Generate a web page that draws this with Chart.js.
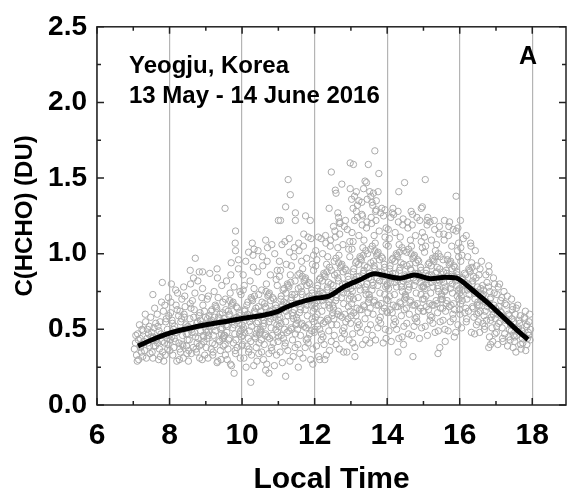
<!DOCTYPE html>
<html>
<head>
<meta charset="utf-8">
<script src="https://cdn.jsdelivr.net/npm/chart.js@4"></script>
<style>
  html, body { margin: 0; padding: 0; background: #fff; }
</style>
</head>
<body>
<canvas id="chart" width="571" height="495"></canvas>
<script>
const xTickValues = [6, 8, 10, 12, 14, 16, 18];
const yTickValues = [0, 0.5, 1, 1.5, 2, 2.5];

// smoothed mean curve
const lineTime = [7.13, 7.5, 8.0, 8.5, 9.0, 9.5, 10.0, 10.5, 10.95, 11.2, 11.5, 12.0, 12.4, 12.8, 13.25, 13.65, 13.95, 14.35, 14.75, 15.2, 15.6, 15.9, 16.05, 16.3, 16.75, 17.2, 17.65, 17.88];
const lineHCHO = [0.39, 0.43, 0.475, 0.505, 0.53, 0.55, 0.572, 0.59, 0.615, 0.645, 0.672, 0.705, 0.72, 0.78, 0.828, 0.868, 0.855, 0.838, 0.86, 0.835, 0.845, 0.84, 0.82, 0.77, 0.68, 0.58, 0.48, 0.433];

// single measurements, pairs of (local time x100, HCHO x100), by half hour
const scatterRaw = [
  706,41, 731,36, 712,47, 744,52, 709,33, 738,44, 721,39, 748,58, 715,30, 727,49, 740,41, 703,37, 734,55, 719,44, 746,34, 724,50, 711,29, 742,47, 729,42, 717,53, 736,31, 749,45, 722,35, 707,46, 745,39, 733,60, 714,43, 726,32, 739,50, 720,38,
  763,44, 791,57, 752,35, 778,68, 786,41, 757,51, 799,46, 770,30, 783,62, 761,39, 794,50, 774,55, 755,45, 788,33, 766,60, 797,71, 779,42, 751,48, 772,37, 793,44, 759,64, 784,29, 768,52, 796,40, 776,47, 754,31, 789,55, 764,43, 781,35, 798,59, 771,49, 757,39, 787,66, 762,54, 775,32, 792,46, 767,41, 795,37, 754,73, 780,81,
  814,52, 837,39, 803,61, 846,47, 822,74, 809,33, 831,55, 849,43, 818,66, 827,30, 841,58, 806,45, 834,70, 812,38, 845,53, 824,49, 801,36, 839,78, 816,42, 829,62, 848,34, 807,56, 836,46, 820,29, 843,65, 811,50, 826,41, 833,57, 804,68, 847,39, 819,48, 830,35, 842,72, 813,44, 825,59, 838,31, 808,54, 850,47, 821,63, 835,40, 817,76, 844,51, 828,37, 802,43, 840,60, 805,80,
  862,48, 889,71, 853,36, 877,55, 895,42, 868,63, 851,52, 883,31, 899,58, 872,45, 858,80, 886,49, 865,38, 892,66, 856,57, 879,44, 897,33, 870,74, 861,50, 884,61, 852,29, 893,46, 875,54, 866,84, 888,40, 857,67, 898,53, 873,37, 881,59, 854,43, 891,77, 869,48, 860,34, 885,56, 896,62, 876,41, 863,69, 890,30, 855,51, 878,82, 894,45, 867,58, 882,39, 859,64, 900,50, 874,35, 887,53, 857,89, 871,97, 882,88, 891,88,
  913,55, 938,42, 904,70, 927,49, 946,61, 919,33, 935,58, 908,46, 944,79, 922,52, 901,38, 930,64, 949,45, 916,56, 933,29, 907,72, 941,50, 925,40, 911,87, 937,57, 903,44, 947,68, 920,35, 929,53, 914,62, 943,47, 906,31, 932,84, 950,55, 918,41, 926,66, 940,36, 909,59, 945,51, 923,75, 902,48, 936,43, 917,63, 948,39, 912,54, 931,90, 905,57, 942,30, 921,46, 934,71, 910,52, 939,60, 915,37, 928,65, 946,44, 924,58, 931,28, 907,49, 944,55,
  988,56, 963,43, 997,73, 974,51, 955,63, 982,34, 966,60, 993,47, 957,82, 979,53, 999,39, 971,66, 952,46, 985,58, 968,27, 994,75, 960,52, 976,41, 990,90, 964,59, 998,45, 954,70, 981,36, 972,55, 987,64, 958,48, 995,31, 969,86, 951,57, 983,43, 975,68, 961,37, 992,61, 956,53, 978,78, 996,49, 965,44, 984,65, 953,40, 989,56, 970,94, 993,59, 959,30, 980,47, 967,74, 991,54, 962,62, 986,38, 973,67, 950,46, 977,57, 1000,50, 954,33, 966,69, 953,130, 982,115, 981,107, 982,102, 978,21, 971,26, 990,96,
  1012,58, 1037,44, 1003,76, 1026,52, 1045,65, 1018,35, 1034,62, 1007,48, 1043,88, 1021,55, 1001,40, 1029,69, 1048,47, 1015,60, 1032,26, 1006,79, 1040,54, 1024,42, 1010,95, 1036,61, 1002,46, 1046,73, 1019,37, 1028,57, 1013,66, 1042,50, 1005,31, 1031,91, 1049,59, 1017,44, 1025,71, 1039,38, 1008,63, 1044,55, 1022,82, 1004,51, 1035,45, 1016,68, 1047,41, 1011,58, 1030,99, 1007,62, 1041,29, 1020,49, 1033,77, 1009,56, 1038,64, 1014,39, 1027,70, 1050,48, 1023,59, 1000,53, 1046,34, 1034,72, 1003,86, 1018,101, 1044,102, 1026,33, 1011,25, 1039,47, 1024,15, 1028,107, 1033,103,
  1088,61, 1063,46, 1097,79, 1074,55, 1055,68, 1082,36, 1066,64, 1093,50, 1057,92, 1079,57, 1099,42, 1071,72, 1052,49, 1085,63, 1068,27, 1094,83, 1060,56, 1076,44, 1090,100, 1064,65, 1098,48, 1054,76, 1081,38, 1072,59, 1087,70, 1058,52, 1095,33, 1069,95, 1051,62, 1083,46, 1075,74, 1061,40, 1092,66, 1056,58, 1078,86, 1096,53, 1065,47, 1084,71, 1053,43, 1089,60, 1070,104, 1093,64, 1059,30, 1080,51, 1067,80, 1091,58, 1062,67, 1086,41, 1073,73, 1050,50, 1077,62, 1100,56, 1054,35, 1066,75, 1097,89, 1082,106, 1056,98, 1074,34, 1089,26, 1061,54, 1071,45, 1079,69, 1065,109, 1065,23, 1074,21, 1100,122,
  1112,66, 1137,50, 1103,85, 1126,59, 1145,73, 1118,39, 1134,69, 1107,54, 1143,98, 1121,62, 1101,45, 1129,78, 1148,53, 1115,68, 1132,29, 1106,89, 1140,61, 1124,48, 1110,106, 1136,71, 1102,52, 1146,82, 1119,41, 1128,64, 1113,76, 1142,57, 1105,35, 1131,101, 1149,67, 1117,50, 1125,80, 1139,43, 1108,72, 1144,63, 1122,93, 1104,58, 1135,51, 1116,77, 1147,47, 1111,65, 1130,110, 1107,70, 1141,32, 1120,55, 1133,86, 1109,63, 1138,73, 1114,44, 1127,79, 1150,54, 1123,67, 1100,60, 1146,38, 1134,81, 1103,95, 1118,108, 1144,104, 1126,36, 1111,28, 1139,59, 1129,49, 1121,74, 1136,92, 1108,46, 1120,131, 1127,149, 1106,122, 1120,19, 1133,139, 1147,127, 1147,122,
  1188,70, 1163,53, 1197,89, 1174,63, 1155,77, 1182,41, 1166,73, 1193,57, 1157,102, 1179,66, 1199,48, 1171,82, 1152,56, 1185,72, 1168,31, 1194,93, 1160,65, 1176,51, 1190,110, 1164,75, 1198,55, 1154,86, 1181,44, 1172,68, 1187,80, 1158,61, 1195,37, 1169,105, 1151,71, 1183,53, 1175,84, 1161,46, 1192,76, 1156,67, 1178,97, 1196,62, 1165,54, 1184,81, 1153,50, 1189,69, 1170,113, 1193,74, 1159,34, 1180,59, 1167,90, 1191,66, 1162,78, 1186,47, 1173,83, 1150,58, 1177,71, 1200,64, 1154,40, 1166,85, 1197,99, 1182,111, 1156,107, 1174,38, 1189,30, 1161,63, 1171,52, 1179,79, 1164,95, 1192,49, 1177,43, 1159,87, 1175,125, 1155,25, 1188,122, 1195,27,
  1212,73, 1237,56, 1203,92, 1226,66, 1245,80, 1218,43, 1234,76, 1207,60, 1243,105, 1221,69, 1201,50, 1229,85, 1248,59, 1215,75, 1232,33, 1206,96, 1240,68, 1224,54, 1210,111, 1236,78, 1202,58, 1246,89, 1219,47, 1228,71, 1213,83, 1242,64, 1205,39, 1231,107, 1249,74, 1217,56, 1225,87, 1239,49, 1208,79, 1244,70, 1222,100, 1204,65, 1235,57, 1216,84, 1247,53, 1211,72, 1230,112, 1207,77, 1241,36, 1220,62, 1233,93, 1209,69, 1238,81, 1214,50, 1227,86, 1250,61, 1223,74, 1200,67, 1246,42, 1234,88, 1203,102, 1218,110, 1244,109, 1226,40, 1211,32, 1239,66, 1229,55, 1221,82, 1236,98, 1208,52, 1223,45, 1241,91, 1246,154, 1240,130, 1228,30, 1214,30,
  1288,78, 1263,60, 1297,98, 1274,71, 1255,86, 1282,47, 1266,82, 1293,65, 1257,111, 1279,74, 1299,54, 1271,91, 1252,64, 1285,80, 1268,37, 1294,103, 1260,73, 1276,58, 1290,116, 1264,84, 1298,62, 1254,95, 1281,51, 1272,76, 1287,89, 1258,69, 1295,43, 1269,113, 1251,79, 1283,60, 1275,93, 1261,53, 1292,85, 1256,75, 1278,106, 1296,70, 1265,62, 1284,90, 1253,57, 1289,77, 1270,120, 1293,83, 1259,40, 1280,67, 1267,99, 1291,74, 1262,87, 1286,55, 1273,92, 1250,66, 1277,80, 1300,72, 1254,46, 1266,94, 1297,108, 1282,118, 1256,115, 1274,44, 1289,35, 1261,71, 1271,59, 1279,88, 1264,104, 1292,57, 1277,49, 1259,97, 1285,122, 1268,121, 1257,142, 1259,140, 1264,127, 1252,118, 1266,124, 1275,146, 1298,160, 1298,143, 1280,35,
  1312,83, 1337,65, 1303,103, 1326,76, 1345,91, 1318,51, 1334,87, 1307,70, 1343,117, 1321,79, 1301,59, 1329,96, 1348,68, 1315,85, 1332,40, 1306,108, 1340,78, 1324,63, 1310,122, 1336,89, 1302,67, 1346,100, 1319,55, 1328,81, 1313,94, 1342,73, 1305,47, 1331,119, 1349,84, 1317,64, 1325,98, 1339,57, 1308,90, 1344,80, 1322,112, 1304,75, 1335,66, 1316,95, 1347,61, 1311,82, 1330,126, 1307,88, 1341,43, 1320,71, 1333,104, 1309,79, 1338,92, 1314,59, 1327,97, 1350,70, 1323,85, 1300,77, 1346,50, 1334,99, 1303,114, 1318,124, 1344,121, 1326,48, 1311,38, 1339,76, 1329,63, 1321,93, 1336,109, 1308,61, 1323,53, 1341,102, 1315,128, 1332,125, 1307,159, 1310,138, 1306,130, 1318,132, 1302,136, 1315,141, 1322,135, 1311,32, 1339,148, 1343,147, 1348,159, 1330,134, 1345,136, 1335,143, 1305,41,
  1388,86, 1363,68, 1397,106, 1374,79, 1355,94, 1382,54, 1366,90, 1393,73, 1357,120, 1379,82, 1399,62, 1371,99, 1352,71, 1385,88, 1368,43, 1394,111, 1360,81, 1376,66, 1390,125, 1364,92, 1398,70, 1354,103, 1381,58, 1372,84, 1387,97, 1358,76, 1395,50, 1369,122, 1351,87, 1383,67, 1375,101, 1361,60, 1392,93, 1356,83, 1378,115, 1396,78, 1365,69, 1384,98, 1353,64, 1389,85, 1370,129, 1393,91, 1359,46, 1380,74, 1367,107, 1391,82, 1362,95, 1386,62, 1373,100, 1350,73, 1377,88, 1400,80, 1354,53, 1366,102, 1397,117, 1382,127, 1356,124, 1374,51, 1389,41, 1361,79, 1371,66, 1379,96, 1364,112, 1392,64, 1377,56, 1359,105, 1385,130, 1368,128, 1366,168, 1352,141, 1360,132, 1370,135, 1355,138, 1362,140, 1358,134, 1377,153, 1375,141, 1394,129, 1352,41, 1397,44,
  1412,85, 1437,67, 1403,105, 1426,78, 1445,93, 1418,53, 1434,89, 1407,72, 1443,119, 1421,81, 1401,61, 1429,98, 1448,70, 1415,87, 1432,44, 1406,110, 1440,80, 1424,65, 1410,124, 1436,91, 1402,69, 1446,102, 1419,57, 1428,83, 1413,96, 1442,75, 1405,49, 1431,121, 1449,86, 1417,66, 1425,100, 1439,59, 1408,92, 1444,82, 1422,114, 1404,77, 1435,68, 1416,97, 1447,63, 1411,84, 1430,128, 1407,90, 1441,45, 1420,73, 1433,106, 1409,81, 1438,94, 1414,61, 1427,99, 1450,72, 1423,87, 1400,79, 1446,52, 1434,101, 1403,116, 1418,126, 1444,123, 1426,50, 1411,42, 1439,78, 1429,65, 1421,95, 1436,111, 1408,63, 1423,55, 1441,104, 1416,130, 1414,127, 1432,141, 1448,147, 1430,35, 1445,40,
  1488,86, 1463,68, 1497,104, 1474,79, 1455,92, 1482,55, 1466,89, 1493,73, 1457,117, 1479,82, 1499,62, 1471,97, 1452,71, 1485,87, 1468,46, 1494,108, 1460,80, 1476,66, 1490,122, 1464,90, 1498,70, 1454,101, 1481,58, 1472,84, 1487,95, 1458,76, 1495,51, 1469,119, 1451,85, 1483,67, 1475,99, 1461,60, 1492,91, 1456,83, 1478,112, 1496,78, 1465,69, 1484,96, 1453,64, 1489,84, 1470,126, 1493,89, 1459,47, 1480,74, 1467,105, 1491,81, 1462,93, 1486,62, 1473,98, 1450,73, 1477,87, 1500,79, 1454,54, 1466,100, 1497,114, 1482,124, 1456,121, 1474,52, 1489,44, 1461,78, 1471,66, 1479,94, 1464,109, 1492,64, 1477,57, 1459,103, 1471,32, 1494,130, 1497,131, 1466,128,
  1512,85, 1537,67, 1503,101, 1526,78, 1545,90, 1518,56, 1534,87, 1507,72, 1543,113, 1521,81, 1501,62, 1529,95, 1548,70, 1515,86, 1532,48, 1506,105, 1540,79, 1524,66, 1510,119, 1536,88, 1502,70, 1546,98, 1519,59, 1528,83, 1513,93, 1542,75, 1505,52, 1531,116, 1549,84, 1517,67, 1525,97, 1539,61, 1508,89, 1544,82, 1522,109, 1504,77, 1535,69, 1516,94, 1547,64, 1511,83, 1530,122, 1507,87, 1541,49, 1520,74, 1533,102, 1509,80, 1538,91, 1514,63, 1527,96, 1550,73, 1523,86, 1500,78, 1546,55, 1534,98, 1503,111, 1518,121, 1544,118, 1526,54, 1511,46, 1539,77, 1529,66, 1521,92, 1536,106, 1508,65, 1523,58, 1541,100, 1505,149, 1512,124, 1510,122, 1540,34, 1545,38,
  1588,84, 1563,67, 1597,98, 1574,77, 1555,88, 1582,57, 1566,85, 1593,72, 1557,109, 1579,80, 1599,63, 1571,93, 1552,70, 1585,85, 1568,49, 1594,102, 1560,78, 1576,66, 1590,115, 1564,87, 1598,70, 1554,96, 1581,60, 1572,82, 1587,91, 1558,75, 1595,53, 1569,112, 1551,83, 1583,67, 1575,95, 1561,62, 1592,88, 1556,81, 1578,105, 1596,76, 1565,69, 1584,92, 1553,64, 1589,82, 1570,118, 1593,86, 1559,50, 1580,74, 1567,99, 1591,79, 1562,89, 1586,63, 1573,94, 1550,72, 1577,85, 1600,77, 1554,56, 1566,96, 1597,107, 1582,116, 1556,113, 1574,55, 1589,48, 1561,76, 1571,65, 1579,90, 1558,122, 1572,121, 1560,42, 1590,138, 1595,117, 1585,45,
  1612,80, 1637,64, 1603,95, 1626,73, 1645,84, 1618,55, 1634,80, 1607,69, 1643,102, 1621,76, 1601,60, 1629,88, 1648,66, 1615,81, 1632,48, 1606,99, 1640,74, 1624,62, 1610,110, 1636,82, 1602,67, 1646,92, 1619,57, 1628,77, 1613,87, 1642,70, 1605,51, 1631,105, 1649,78, 1617,64, 1625,90, 1639,58, 1608,84, 1644,75, 1622,98, 1604,72, 1635,65, 1616,86, 1647,60, 1611,79, 1630,107, 1607,83, 1641,47, 1620,70, 1633,94, 1609,76, 1638,85, 1614,61, 1627,89, 1650,68, 1623,80, 1600,74, 1646,53, 1634,91, 1603,104, 1618,112, 1602,122,
  1662,72, 1687,58, 1653,86, 1676,65, 1695,74, 1668,50, 1684,70, 1657,62, 1693,84, 1671,68, 1651,55, 1679,78, 1698,57, 1665,73, 1682,45, 1656,90, 1690,63, 1674,56, 1660,95, 1686,71, 1652,61, 1696,80, 1669,52, 1678,67, 1663,79, 1692,60, 1655,48, 1681,88, 1699,64, 1667,59, 1675,81, 1689,51, 1658,77, 1694,66, 1672,86, 1654,66, 1685,56, 1666,76, 1697,47, 1661,70, 1680,92, 1657,74, 1691,42, 1670,62, 1683,75, 1659,69, 1688,64, 1664,54, 1685,40, 1680,38,
  1712,62, 1737,50, 1703,73, 1726,56, 1745,63, 1718,44, 1734,60, 1707,54, 1743,70, 1721,58, 1701,48, 1729,66, 1748,46, 1715,61, 1732,39, 1706,78, 1740,53, 1724,47, 1710,80, 1736,59, 1702,52, 1746,65, 1719,42, 1728,57, 1713,69, 1742,49, 1705,40, 1731,72, 1749,55, 1717,51, 1725,67, 1739,43, 1708,65, 1744,57, 1722,75, 1704,60, 1735,45, 1716,71, 1747,38, 1711,55,
  1762,51, 1787,44, 1753,60, 1776,47, 1791,55, 1768,40, 1784,52, 1757,46, 1793,60, 1771,49, 1751,42, 1779,57, 1794,43, 1765,54, 1782,36, 1756,64, 1789,48, 1774,41, 1760,66, 1786,53, 1752,45, 1795,50, 1769,37, 1778,58, 1763,56, 1790,46, 1755,35, 1781,62, 1773,44, 1767,59, 1785,40, 1759,50
];

const FONT = "'Liberation Sans', Arial, sans-serif";

const scatterPoints = [];
for (let i = 0; i < scatterRaw.length; i += 2) {
  scatterPoints.push({ x: scatterRaw[i] / 100, y: scatterRaw[i + 1] / 100 });
}
const linePoints = lineTime.map((t, i) => ({ x: t, y: lineHCHO[i] }));

// box, inward ticks and the text labels inside the plot
const framePlugin = {
  id: "frame",
  afterDatasetsDraw(chart) {
    const { ctx, chartArea: a, scales: { x, y } } = chart;
    ctx.save();
    ctx.strokeStyle = "#222";
    ctx.lineWidth = 1.5;
    ctx.beginPath();
    xTickValues.forEach((v) => {
      const px = x.getPixelForValue(v);
      ctx.moveTo(px, a.bottom); ctx.lineTo(px, a.bottom - 7);
      ctx.moveTo(px, a.top); ctx.lineTo(px, a.top + 7);
      if (v + 1 < x.max) {
        const mx = x.getPixelForValue(v + 1);
        ctx.moveTo(mx, a.bottom); ctx.lineTo(mx, a.bottom - 4);
        ctx.moveTo(mx, a.top); ctx.lineTo(mx, a.top + 4);
      }
    });
    yTickValues.forEach((v, i) => {
      const py = y.getPixelForValue(v);
      ctx.moveTo(a.left, py); ctx.lineTo(a.left + 7, py);
      ctx.moveTo(a.right, py); ctx.lineTo(a.right - 7, py);
      if (i < yTickValues.length - 1) {
        const my = y.getPixelForValue((v + yTickValues[i + 1]) / 2);
        ctx.moveTo(a.left, my); ctx.lineTo(a.left + 4, my);
        ctx.moveTo(a.right, my); ctx.lineTo(a.right - 4, my);
      }
    });
    ctx.stroke();
    ctx.strokeRect(a.left, a.top, a.right - a.left, a.bottom - a.top);

    ctx.fillStyle = "#000";
    ctx.textAlign = "left";
    ctx.textBaseline = "alphabetic";
    ctx.font = "bold 24px " + FONT;
    ctx.fillText("Yeogju, Korea", a.left + 32, a.top + 46);
    ctx.fillText("13 May - 14 June 2016", a.left + 32, a.top + 76);
    ctx.font = "bold 25px " + FONT;
    ctx.fillText("A", a.left + 422, a.top + 37);
    ctx.restore();
  }
};

new Chart(document.getElementById("chart"), {
  type: "scatter",
  data: {
    datasets: [
      {
        type: "line",
        data: linePoints,
        borderColor: "#000",
        borderWidth: 5,
        pointRadius: 0,
        cubicInterpolationMode: "monotone",
        fill: false,
        order: 0
      },
      {
        data: scatterPoints,
        pointStyle: "circle",
        pointRadius: 3.2,
        borderWidth: 1,
        borderColor: "#aaaaaa",
        backgroundColor: "rgba(255,255,255,0)",
        order: 1
      }
    ]
  },
  options: {
    responsive: false,
    animation: false,
    devicePixelRatio: 1,
    layout: { padding: { top: 26, right: 2, left: 0, bottom: 0 } },
    plugins: { legend: { display: false }, tooltip: { enabled: false } },
    scales: {
      x: {
        type: "linear",
        min: 6,
        max: 18.93,
        afterBuildTicks: (s) => { s.ticks = xTickValues.map((v) => ({ value: v })); },
        afterFit: (s) => { s.height = 90; },
        grid: { color: "#b4b4b4", lineWidth: 1.2, drawTicks: false },
        border: { display: false },
        ticks: {
          color: "#000",
          padding: 13,
          maxRotation: 0,
          font: { family: FONT, size: 30, weight: "bold" }
        },
        title: {
          display: true,
          text: "Local Time",
          color: "#000",
          padding: { top: 0, bottom: -3 },
          font: { family: FONT, size: 30, weight: "bold" }
        }
      },
      y: {
        type: "linear",
        min: 0,
        max: 2.5,
        afterBuildTicks: (s) => { s.ticks = yTickValues.map((v) => ({ value: v })); },
        afterFit: (s) => { s.width = 97; },
        grid: { display: false, drawTicks: false },
        border: { display: false },
        ticks: {
          color: "#000",
          padding: 10,
          callback: (v) => Number(v).toFixed(1),
          font: { family: FONT, size: 28, weight: "bold" }
        },
        title: {
          display: true,
          text: "C(HCHO) (DU)",
          color: "#000",
          padding: { top: 11, bottom: 0 },
          font: { family: FONT, size: 24, weight: "bold" }
        }
      }
    }
  },
  plugins: [framePlugin]
});
</script>
</body>
</html>
